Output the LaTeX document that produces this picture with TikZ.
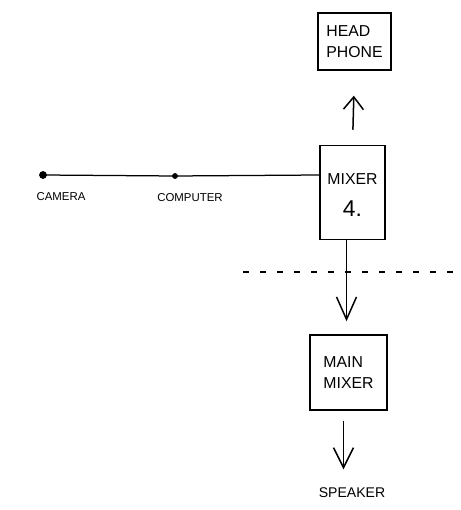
\documentclass[tikz,border=0pt]{standalone}
\usepackage{fontspec}
\setmainfont{Liberation Sans}
\usetikzlibrary{arrows.meta}
\tikzset{
	unit/.style={draw, line width=0.3mm, minimum width=#1},
	lbl/.style={font=\fontsize{6.5}{7}\selectfont},
	boxtxt/.style={font=\fontsize{9}{12}\selectfont, align=left},
	flow/.style={line width=0.3mm, -{Straight Barb[length=#1,width=4mm,line width=0.3mm]}},
	flow/.default=4mm,
}

\begin{document}
\begin{tikzpicture}
			%%%%% START %%%%%
			
			\useasboundingbox (0, 0) rectangle (9.2, -10.2);
			
			\node[unit=1.46cm, minimum height=1.14cm, boxtxt] (headphone) at (7.09, -0.83) {HEAD\\PHONE};
			\node[unit=1.3cm, minimum height=1.88cm, boxtxt, align=center] (mixer) at (7.05, -3.85) {\\[-3pt]MIXER\\[6pt]{\fontsize{13}{14}\selectfont 4.}};
			\node[unit=1.54cm, minimum height=1.5cm, boxtxt] (mainmixer) at (6.97, -7.45) {MAIN\\MIXER};
			
			\draw[fill=black] (0.86, -3.5) circle (0.07) coordinate (camera);
			\draw[fill=black] (3.5, -3.52) circle (0.05) coordinate (computer);
			
			\node[lbl] (cameralbl) at (1.22, -3.94) {CAMERA};
			\node[lbl] (computerlbl) at (3.8, -3.96) {COMPUTER};
			\node[lbl, font=\fontsize{8}{9}\selectfont] (speaker) at (7.04, -9.86) {SPEAKER};
			
			\draw[line width=0.25mm] (camera) -- (computer) -- (mixer.west |- camera);
			
			\coordinate (mixout) at ([xshift=-0.12cm]mixer.south);
			\coordinate (mainout) at ([xshift=-0.1cm]mainmixer.south);
			
			\draw[flow=2.5mm, shorten <=0.3cm, shorten >=0.5cm] (mixer.north) -- (headphone.south);
			\draw[flow=4.5mm, shorten >=0.26cm] (mixout) -- (mixout |- mainmixer.north);
			\draw[flow, shorten <=0.2cm, shorten >=0.25cm] (mainout) -- (mainout |- speaker.north);
			
			\draw[line width=0.3mm, dash pattern=on 0.12cm off 0.22cm] (4.86, -5.44) -- (9.2, -5.44);
			
			%%%%% END %%%%%
		\end{tikzpicture}
\end{document}
